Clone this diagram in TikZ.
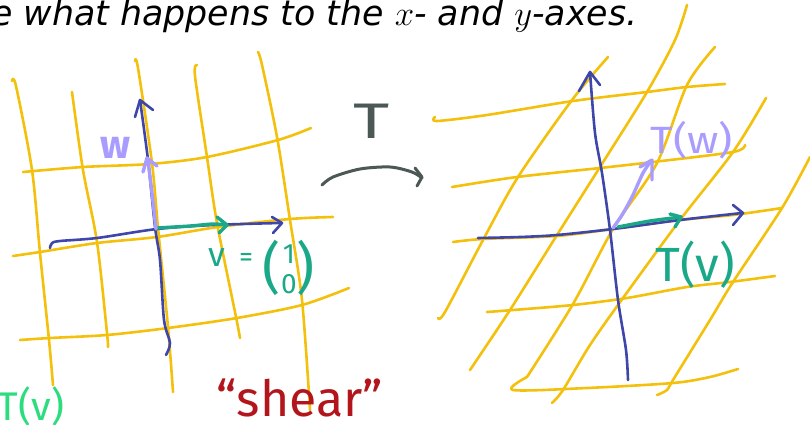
\documentclass[tikz,border=0pt]{standalone}
\usepackage{amsmath}
\usepackage{fontspec}
\setmainfont{DejaVu Sans}
\newfontfamily\hand{Fira Sans}
\definecolor{ylw}{RGB}{243,192,12}
\definecolor{axb}{RGB}{62,70,170}
\definecolor{lav}{RGB}{168,156,255}
\definecolor{tea}{RGB}{26,168,137}
\definecolor{grn}{RGB}{46,220,128}
\definecolor{dred}{RGB}{178,22,28}
\definecolor{dgry}{RGB}{75,88,86}
\tikzset{
  yl/.style={draw=ylw, line width=2.6pt, line cap=round, line join=round},
  ax/.style={draw=axb, line width=2.6pt, line cap=round, line join=round},
  lv/.style={draw=lav, line width=3.4pt, line cap=round, line join=round},
  tv/.style={draw=tea, line width=3.4pt, line cap=round, line join=round},
  gr/.style={draw=dgry, line width=3pt, line cap=round, line join=round},
  lbl/.style={inner sep=0pt, font=\hand}
}
\begin{document}
\begin{tikzpicture}[x=1pt,y=-1pt]
\useasboundingbox (0,0) rectangle (810,425);
% title
\node[anchor=base west, inner sep=0pt] (title) at (-9,26) {\scalebox{2.015}{\fontsize{17.28}{20}\selectfont\itshape e what happens to the $x$- and $y$-axes.}};

% ---- left grid ----
\draw[yl] plot[smooth] coordinates {(12,81)(16,86)(32,170)(40,253)(49,340)(53,385)};
\draw[yl] plot[smooth] coordinates {(72,92)(83,170)(97,242)(107,333)(108,347)};
\draw[yl] plot[smooth] coordinates {(135,61)(138,68)(152,163)(158,228)(168,327)(173,392)};
\draw[yl] plot[smooth] coordinates {(197,65)(195,76)(207,157)(217,223)(236,317)(240,338)};
\draw[yl] plot[smooth] coordinates {(258,52)(262,65)(277,137)(290,220)(302,300)(310,410)};
\draw[yl] plot[smooth] coordinates {(23,172)(83,167)(150,164)(207,157)(278,140)(311,128)};
\draw[yl] plot[smooth] coordinates {(13,256)(40,252)(97,243)(157,237)(218,227)(290,219)(333,217)};
\draw[yl] plot[smooth] coordinates {(20,340)(50,338)(107,335)(168,328)(237,318)(302,305)(349,288)};
% axes
\draw[ax] plot[smooth] coordinates {(50,248)(52,243)(60,241)(97,238)(157,229)(213,225)(280,223)};
\draw[ax] (272,217) -- (282,223) -- (273,233);
\draw[ax] plot[smooth] coordinates {(140,100)(148,160)(155,227)(160,260)(164,320)(170,343)(166,355)};
\draw[ax] (135,117) -- (140,100) -- (153,110);
% vectors
\draw[tv] plot[smooth] coordinates {(157,228)(190,226)(213,224)(227,225)};
\draw[tv] (217,217) -- (227,225) -- (219,233);
\draw[lv] plot[smooth] coordinates {(156,229)(152,193)(148,160)};
\draw[lv] (143,172) -- (147,158) -- (157,166);
\node[lbl, lav, font=\hand\fontsize{40}{40}\selectfont\bfseries] (w) at (115,148) {w};
\node[lbl, tea, font=\hand\fontsize{34}{34}\selectfont] (v) at (217,258) {v};
\node[lbl, tea, font=\hand\fontsize{28}{28}\selectfont] (eq) at (246,260) {=};
\node[lbl, tea, font=\hand\fontsize{56}{56}\selectfont] (lp) at (272,268) {(};
\node[lbl, tea, font=\hand\fontsize{28}{30}\selectfont, align=center] (ent) at (289,269) {1\\0};
\node[lbl, tea, font=\hand\fontsize{56}{56}\selectfont] (rp) at (306,268) {)};
\node[lbl, grn, font=\hand\fontsize{40}{40}\selectfont] (tvl) at (31,406) {T(v)};
\node[lbl, dred, font=\hand\fontsize{50}{50}\selectfont] (shear) at (300,398) {“shear”};

% ---- middle ----
\node[lbl, dgry, font=\hand\fontsize{50}{50}\selectfont] (T) at (372,121) {\scalebox{1.4}[1]{T}};
\draw[gr] plot[smooth] coordinates {(322,185)(333,177)(360,169)(390,167)(412,172)(422,178)};
\draw[gr] (415,168) -- (422,177) -- (417,186);

% ---- right grid ----
\draw[yl] plot[smooth] coordinates {(435,117)(437,121)(487,115)(573,101)(647,92)(687,87)(725,84)};
\draw[yl] plot[smooth] coordinates {(452,187)(517,177)(600,168)(653,162)(733,152)(745,145)};
\draw[yl] plot[smooth] coordinates {(453,242)(483,239)(557,236)(613,229)(680,220)(733,215)(782,208)};
\draw[yl] plot[smooth] coordinates {(487,312)(513,310)(573,305)(627,298)(687,287)(730,282)(775,276)};
\draw[yl] plot[smooth] coordinates {(527,377)(513,390)(587,388)(673,383)(710,377)(738,369)};
\draw[yl] plot[smooth] coordinates {(438,318)(445,312)(483,240)(518,177)(572,100)(608,57)};
\draw[yl] plot[smooth] coordinates {(470,370)(510,310)(557,235)(600,167)(647,92)(675,40)(687,5)};
\draw[yl] plot[smooth] coordinates {(527,377)(573,304)(613,229)(657,163)(687,85)(715,47)};
\draw[yl] plot[smooth] coordinates {(552,403)(563,390)(590,345)(623,298)(680,220)(733,152)(766,98)};
\draw[yl] plot[smooth] coordinates {(657,395)(667,390)(673,380)(710,320)(733,282)(782,208)(810,157)};
% axes
\draw[ax] plot[smooth] coordinates {(590,72)(595,133)(602,173)(610,230)(618,300)(626,350)(628,380)};
\draw[ax] (579,91) -- (590,72) -- (600,85);
\draw[ax] plot[smooth] coordinates {(478,238)(520,237)(557,235)(613,229)(680,220)(742,213)};
\draw[ax] (733,205) -- (743,213) -- (733,225);
% vectors
\draw[lv] plot[smooth] coordinates {(613,228)(622,215)(632,197)(643,173)(651,161)};
\draw[lv] (640,167) -- (652,160) -- (652,180);
\draw[tv] plot[smooth] coordinates {(618,227)(650,221)(681,217)};
\draw[tv] (670,214) -- (681,217) -- (675,227);
\node[lbl, lav, font=\hand\fontsize{38}{38}\selectfont] (Tw) at (692,140) {\scalebox{1.15}[1]{T(w)}};
\node[lbl, tea, font=\hand\fontsize{48}{48}\selectfont] (Tv) at (695,265) {T(v)};
\end{tikzpicture}
\end{document}
